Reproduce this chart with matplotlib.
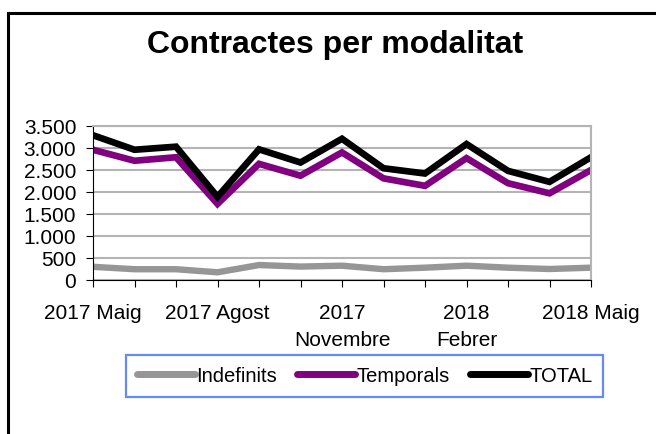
import matplotlib.pyplot as plt
from matplotlib.patches import Rectangle

plt.rcParams['font.family'] = ['Liberation Sans', 'DejaVu Sans']

# mesos (maig 2017 - maig 2018)
mesos = ['2017 Maig', '', '', '2017 Agost', '', '', '2017\nNovembre', '', '',
         '2018\nFebrer', '', '', '2018 Maig']
indefinits = [300, 245, 245, 175, 340, 305, 325, 245, 280, 325, 280, 250, 280]
temporals = [2960, 2710, 2790, 1730, 2640, 2370, 2900, 2310, 2140, 2770, 2200, 1970, 2500]
total = [3290, 2960, 3030, 1890, 2970, 2670, 3210, 2540, 2420, 3090, 2480, 2230, 2790]
yticks = [0, 500, 1000, 1500, 2000, 2500, 3000, 3500]
ytick_labels = ['0', '500', '1.000', '1.500', '2.000', '2.500', '3.000', '3.500']

fig = plt.figure(figsize=(6.56, 4.34), dpi=100)
ax = fig.add_axes([93 / 656, 1 - 280 / 434, 498 / 656, 154 / 434])

x = list(range(len(mesos)))
ax.plot(x, indefinits, color='#969696', lw=4.6, label='Indefinits', solid_joinstyle='miter')
ax.plot(x, temporals, color='#800080', lw=4.8, label='Temporals', solid_joinstyle='miter')
ax.plot(x, total, color='black', lw=4.8, label='TOTAL', solid_joinstyle='miter')

ax.set_xlim(0, len(mesos) - 1)
ax.set_ylim(0, 3500)
ax.set_yticks(yticks)
ax.set_yticklabels(ytick_labels)
ax.set_xticks(x)
ax.set_xticklabels(mesos)
ax.tick_params(axis='both', labelsize=15, length=5, width=0.8, direction='out', colors='black')
ax.tick_params(axis='x', pad=12)
ax.tick_params(axis='y', pad=7)
for lbl in ax.get_xticklabels():
    lbl.set_linespacing(1.55)

# graella grisa
ax.grid(axis='y', color='#b4b4b4', lw=1.5)
ax.set_axisbelow(True)
ax.spines['top'].set_color('#b4b4b4')
ax.spines['top'].set_linewidth(1.5)
ax.spines['right'].set_color('#b4b4b4')
ax.spines['right'].set_linewidth(1.5)
ax.spines['left'].set_linewidth(0.8)
ax.spines['bottom'].set_linewidth(0.8)

fig.suptitle('Contractes per modalitat', fontsize=23, fontweight='bold',
             x=335.5 / 656, y=1 - 30 / 434, va='top')

leg = ax.legend(loc='center', bbox_to_anchor=(364.5 / 656, 1 - 376 / 434),
                bbox_transform=fig.transFigure, ncol=3, fontsize=14.5, frameon=True,
                fancybox=False, handlelength=2.9, handletextpad=0.05, columnspacing=1.0,
                borderpad=0.55, borderaxespad=0)
leg.get_frame().set_edgecolor('#3c6ef5')
leg.get_frame().set_linewidth(1.6)
for h in leg.get_lines():
    h.set_linewidth(5)
    h.set_solid_capstyle('round')

# marc exterior
fig.patches.append(Rectangle((8 / 656, -0.1), 1.2, 1 - 13.5 / 434 + 0.1, transform=fig.transFigure,
                             fill=False, edgecolor='black', lw=2.2, clip_on=False))

fig.savefig('out.png', dpi=100)
